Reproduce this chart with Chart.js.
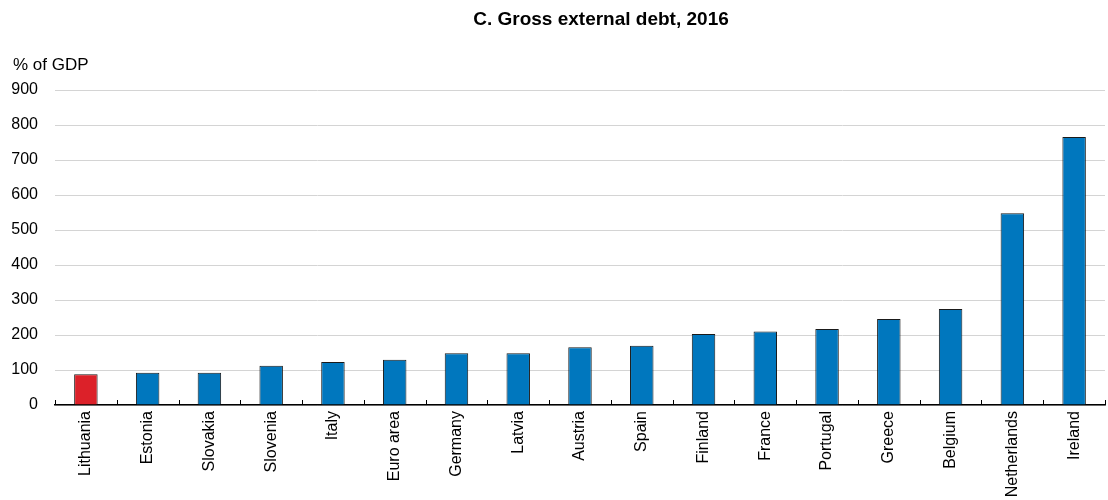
<!DOCTYPE html>
<html>
<head>
<meta charset="utf-8">
<script src="https://cdn.jsdelivr.net/npm/chart.js@4/dist/chart.umd.min.js"></script>
<style>
  html, body { margin: 0; padding: 0; background: #fff; }
  #wrap { width: 1108px; height: 500px; }
</style>
</head>
<body>
<div id="wrap"><canvas id="chartDebt" width="1108" height="500"></canvas></div>
<script>
// Dados (% do PIB)
const paises = ['Lithuania', 'Estonia', 'Slovakia', 'Slovenia', 'Italy', 'Euro area', 'Germany', 'Latvia',
  'Austria', 'Spain', 'Finland', 'France', 'Portugal', 'Greece', 'Belgium', 'Netherlands', 'Ireland'];
const divida = [88, 92, 92, 112, 123, 129, 148, 148, 165, 169, 203, 210, 217, 246, 274, 548, 766];
const destaque = 'Lithuania';
const yTicks = [0, 100, 200, 300, 400, 500, 600, 700, 800, 900];

const AZUL = '#0077be';
const VERMELHO = '#dc2129';

// Títulos e marcas de categoria
const extras = {
  id: 'extras',
  afterDraw(chart) {
    const ctx = chart.ctx;
    const x = chart.scales.x;
    ctx.save();
    ctx.fillStyle = '#000';
    ctx.font = 'bold 19px "Liberation Sans", Arial, sans-serif';
    ctx.textAlign = 'center';
    ctx.textBaseline = 'middle';
    ctx.fillText('C. Gross external debt, 2016', 601, 20);
    ctx.font = '17px "Liberation Sans", Arial, sans-serif';
    ctx.textAlign = 'left';
    ctx.fillText('% of GDP', 13, 65);

    // marcas pequenas entre categorias, para cima
    ctx.strokeStyle = '#000';
    ctx.lineWidth = 1;
    const n = paises.length;
    const passo = x.width / n;
    ctx.beginPath();
    for (let i = 0; i <= n; i++) {
      const px = Math.round(x.left + i * passo) + 0.5;
      ctx.moveTo(px, x.top);
      ctx.lineTo(px, x.top - 5);
    }
    ctx.stroke();
    ctx.restore();
  }
};

new Chart(document.getElementById('chartDebt'), {
  type: 'bar',
  data: {
    labels: paises,
    datasets: [{
      data: divida,
      backgroundColor: paises.map(p => p === destaque ? VERMELHO : AZUL),
      borderColor: '#1a1a1a',
      borderWidth: 1,
      borderSkipped: 'bottom',
      categoryPercentage: 1,
      barPercentage: 0.38
    }]
  },
  options: {
    responsive: false,
    animation: false,
    layout: { padding: { top: 90, right: 3, left: 0, bottom: 0 } },
    plugins: {
      legend: { display: false },
      tooltip: { enabled: false }
    },
    scales: {
      x: {
        offset: true,
        grid: { display: false },
        border: { color: '#000', width: 1.5 },
        ticks: {
          color: '#000',
          font: { family: '"Liberation Sans", Arial, sans-serif', size: 16 },
          maxRotation: 90,
          minRotation: 90,
          padding: -2,
          autoSkip: false
        },
        afterFit: (s) => { s.height = 95; }
      },
      y: {
        min: 0,
        max: 900,
        afterBuildTicks: (s) => { s.ticks = yTicks.map(v => ({ value: v })); },
        grid: { color: '#d4d4d4', lineWidth: 1, drawTicks: false },
        border: { display: false },
        ticks: {
          color: '#000',
          font: { family: '"Liberation Sans", Arial, sans-serif', size: 16 },
          padding: 17
        },
        afterFit: (s) => { s.width = 55; }
      }
    }
  },
  plugins: [extras]
});
</script>
</body>
</html>
